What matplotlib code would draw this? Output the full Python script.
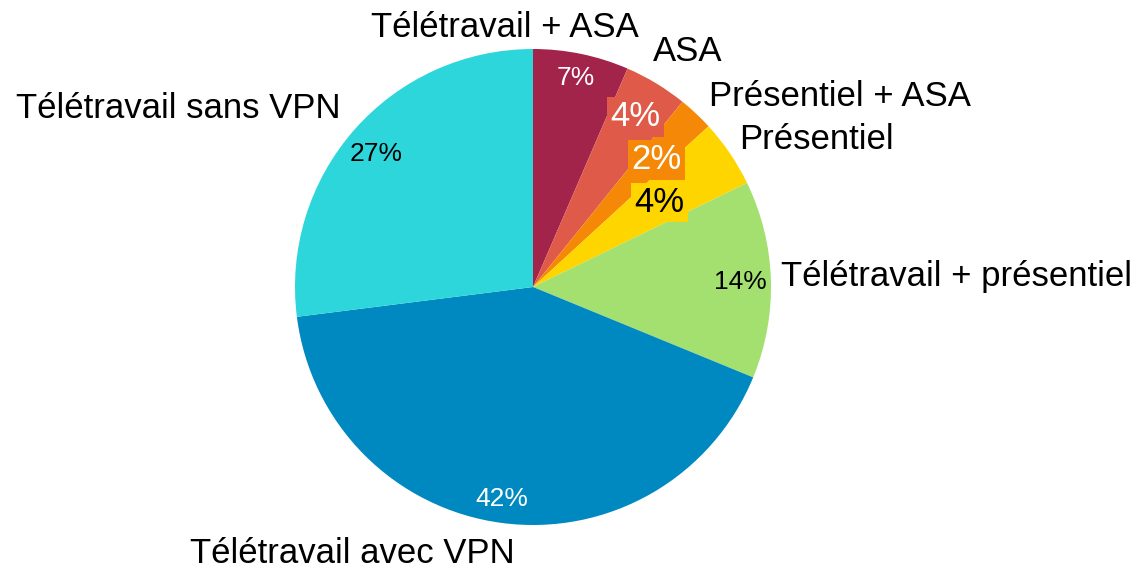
import matplotlib
matplotlib.use("Agg")
import matplotlib.pyplot as plt

categories = ["Télétravail + ASA", "ASA", "Présentiel + ASA", "Présentiel",
              "Télétravail + présentiel", "Télétravail avec VPN", "Télétravail sans VPN"]
values = [6.5, 4.3, 2.4, 4.6, 13.4, 41.8, 27.0]
pct_labels = ["7%", "4%", "2%", "4%", "14%", "42%", "27%"]
colors = ["#A3244A", "#E05A4A", "#F58807", "#FFD500", "#A3E070", "#0089C0", "#2DD6DA"]

plt.rcParams['font.family'] = ['Liberation Sans', 'DejaVu Sans']

W, H, DPI = 1142, 569, 100
fig = plt.figure(figsize=(W / DPI, H / DPI), dpi=DPI)
ax = fig.add_axes([0, 0, 1, 1])
cx, cy, R = 533, 287, 238

ax.pie(values, colors=colors, startangle=90, counterclock=False,
       wedgeprops=dict(linewidth=0))
ax.set_xlim(-cx / R, (W - cx) / R)
ax.set_ylim(-(H - cy) / R, cy / R)
ax.set_aspect('equal')
ax.axis('off')

# category label positions (pie radius units)
cat_pos = [(-0.12, 1.09, 'center'), (0.65, 0.99, 'center'), (1.29, 0.80, 'center'),
           (1.19, 0.62, 'center'), (1.04, 0.045, 'left'), (-0.76, -1.12, 'center'),
           (-1.49, 0.75, 'center')]
for name, (x, y, ha) in zip(categories, cat_pos):
    ax.text(x, y, name, ha=ha, va='center', fontsize=25, color='black')

pct_pos = [(0.18, 0.88), (0.43, 0.715), (0.52, 0.535), (0.53, 0.355),
           (0.87, 0.02), (-0.13, -0.89), (-0.66, 0.56)]
pct_color = ['white', 'white', 'white', 'black', 'black', 'white', 'black']
boxed = [False, True, True, True, False, False, False]
for i, (lab, (x, y)) in enumerate(zip(pct_labels, pct_pos)):
    if boxed[i]:
        ax.text(x, y, lab, ha='center', va='center', fontsize=25, color=pct_color[i],
                bbox=dict(boxstyle='square,pad=0.1', fc=colors[i], ec='none'))
    else:
        ax.text(x, y, lab, ha='center', va='center', fontsize=19, color=pct_color[i])

fig.savefig("out.png", dpi=DPI)
